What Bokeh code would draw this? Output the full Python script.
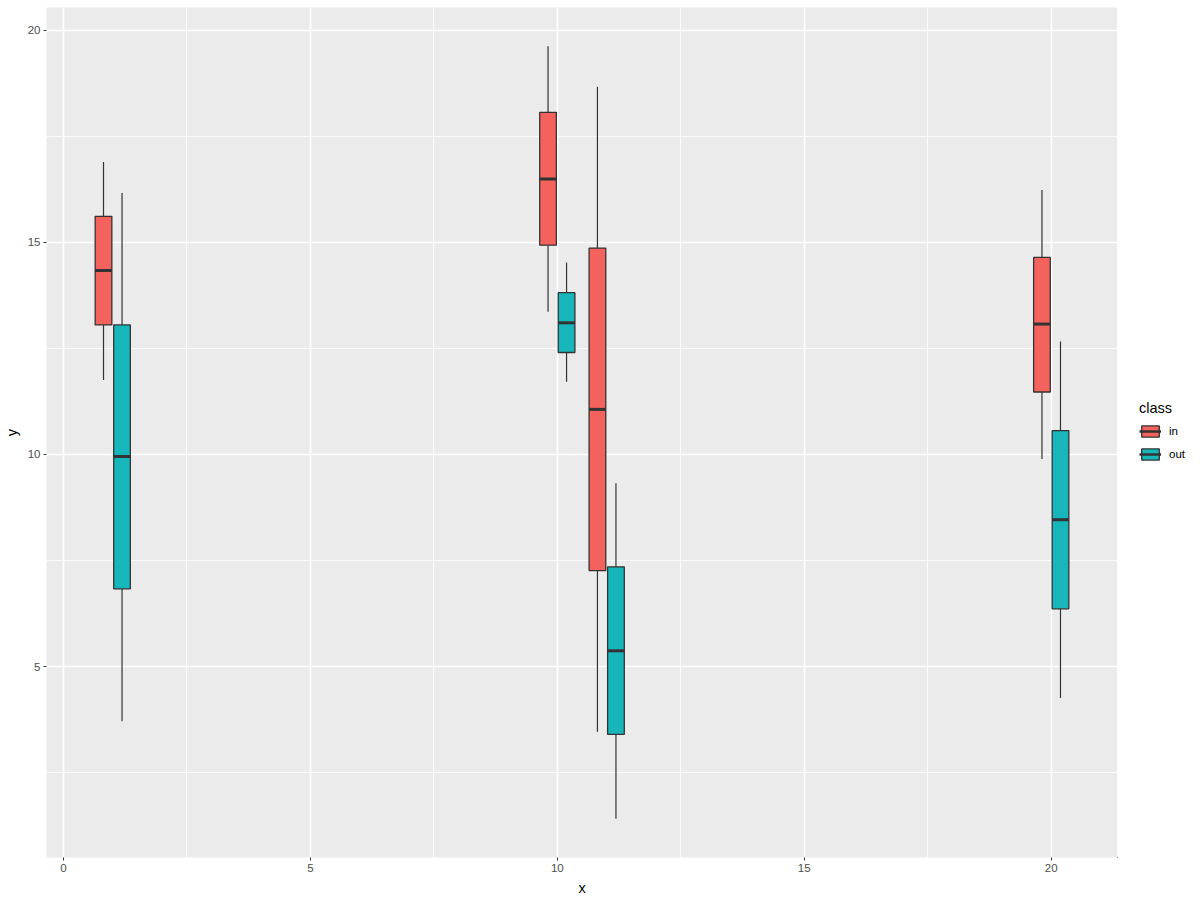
from bokeh.plotting import figure
from bokeh.layouts import row
from bokeh.models import ColumnDataSource, Range1d, Legend, LegendItem, FixedTicker
from bokeh.transform import dodge
from bokeh.embed import file_html
from bokeh.resources import INLINE

# ---- data ----
x_groups = [1, 10, 11, 20]
classes = ["in", "out"]

in_ymin = [11.75, 13.36, 3.46, 9.89]
in_lower = [13.05, 14.93, 7.26, 11.47]
in_middle = [14.33, 16.49, 11.06, 13.07]
in_upper = [15.61, 18.06, 14.86, 14.64]
in_ymax = [16.89, 19.62, 18.66, 16.23]

out_ymin = [3.71, 11.71, 1.41, 4.26]
out_lower = [6.83, 12.40, 3.40, 6.36]
out_middle = [9.95, 13.10, 5.37, 8.46]
out_upper = [13.05, 13.81, 7.35, 10.56]
out_ymax = [16.16, 14.52, 9.32, 12.66]

x_ticks = [0, 5, 10, 15, 20]
y_ticks = [5, 10, 15, 20]
x_minor = [2.5, 7.5, 12.5, 17.5]
y_minor = [2.5, 7.5, 12.5, 17.5]

colors = ["#F3625C", "#17B6BA"]
dodge_width = 0.75
box_width = dodge_width / 2 * 0.9
offsets = [-dodge_width / 4, dodge_width / 4]

series = {
    "in": dict(x=x_groups, ymin=in_ymin, lower=in_lower, middle=in_middle, upper=in_upper, ymax=in_ymax),
    "out": dict(x=x_groups, ymin=out_ymin, lower=out_lower, middle=out_middle, upper=out_upper, ymax=out_ymax),
}

# ggplot-like 5% expansion
all_lo = min(in_ymin + out_ymin)
all_hi = max(in_ymax + out_ymax)
x_lo = min(x_groups) - dodge_width / 4 - box_width / 2
x_hi = max(x_groups) + dodge_width / 4 + box_width / 2
xpad = (x_hi - x_lo) * 0.05
ypad = (all_hi - all_lo) * 0.05

FONT = "Liberation Sans"

p = figure(width=1117, height=900, output_backend="svg", toolbar_location=None,
           x_range=Range1d(x_lo - xpad, x_hi + xpad),
           y_range=Range1d(all_lo - ypad, all_hi + ypad),
           min_border_left=44, min_border_right=0, min_border_top=7, min_border_bottom=43)

p.background_fill_color = "#EBEBEB"
p.border_fill_color = "white"
p.outline_line_color = None

for g in (p.xgrid[0], p.ygrid[0]):
    g.grid_line_color = "white"
    g.grid_line_width = 1.6
    g.minor_grid_line_color = "white"
    g.minor_grid_line_width = 0.8
p.xgrid[0].ticker = FixedTicker(ticks=x_ticks, minor_ticks=x_minor)
p.ygrid[0].ticker = FixedTicker(ticks=y_ticks, minor_ticks=y_minor)

p.xaxis.ticker = FixedTicker(ticks=x_ticks)
p.yaxis.ticker = FixedTicker(ticks=y_ticks)
for ax in (p.xaxis[0], p.yaxis[0]):
    ax.axis_line_color = None
    ax.major_tick_line_color = "#333333"
    ax.major_tick_in = 0
    ax.major_tick_out = 3
    ax.minor_tick_line_color = None
    ax.major_label_text_color = "#4D4D4D"
    ax.major_label_text_font = FONT
    ax.major_label_text_font_size = "11.5px"
    ax.major_label_standoff = 3
    ax.axis_label_text_font = FONT
    ax.axis_label_text_font_size = "14.5px"
    ax.axis_label_text_font_style = "normal"
    ax.axis_label_text_color = "black"
    ax.axis_label_standoff = 5
p.xaxis.axis_label = "x"
p.yaxis.axis_label = "y"

for cls, col, off in zip(classes, colors, offsets):
    src = ColumnDataSource(series[cls])
    xc = dodge("x", off)
    p.segment(x0=xc, y0="upper", x1=xc, y1="ymax", source=src, line_color="#333333", line_width=1.2)
    p.segment(x0=xc, y0="lower", x1=xc, y1="ymin", source=src, line_color="#333333", line_width=1.2)
    p.vbar(x=xc, width=box_width, top="upper", bottom="lower", source=src,
           fill_color=col, line_color="#333333", line_width=1.3)
    p.segment(x0=dodge("x", off - box_width / 2), x1=dodge("x", off + box_width / 2),
              y0="middle", y1="middle", source=src, line_color="#333333", line_width=3)

# ---- legend panel (separate narrow figure to the right) ----
lg = figure(width=83, height=900, output_backend="svg", toolbar_location=None,
            x_range=Range1d(0, 1), y_range=Range1d(0, 1),
            x_axis_type=None, y_axis_type=None, min_border=0)
lg.outline_line_color = None
lg.grid.visible = False
lg.background_fill_color = "white"
lg.border_fill_color = "white"

items = []
for cls, col in zip(classes, colors):
    # placeholder glyphs outside the visible range: only their legend keys are drawn
    b = lg.vbar(x=[-5], width=0.1, top=[-5], bottom=[-6], fill_color=col,
                line_color="#333333", line_width=1.3)
    m = lg.segment(x0=[-5], y0=[-5], x1=[-4], y1=[-5], line_color="#333333", line_width=2.5)
    items.append(LegendItem(label=cls, renderers=[b, m]))

legend = Legend(items=items, title="class", location=(22, 396),
                glyph_width=22, glyph_height=14, label_height=14, spacing=9,
                padding=0, margin=0, label_standoff=8, title_standoff=8,
                border_line_color=None, background_fill_alpha=0,
                title_text_font=FONT, title_text_font_size="14.5px", title_text_font_style="normal",
                title_text_color="black",
                label_text_font=FONT, label_text_font_size="11.5px", label_text_color="black")
lg.add_layout(legend)

layout = row(p, lg)
open("out.html", "w").write(file_html(layout, INLINE))
